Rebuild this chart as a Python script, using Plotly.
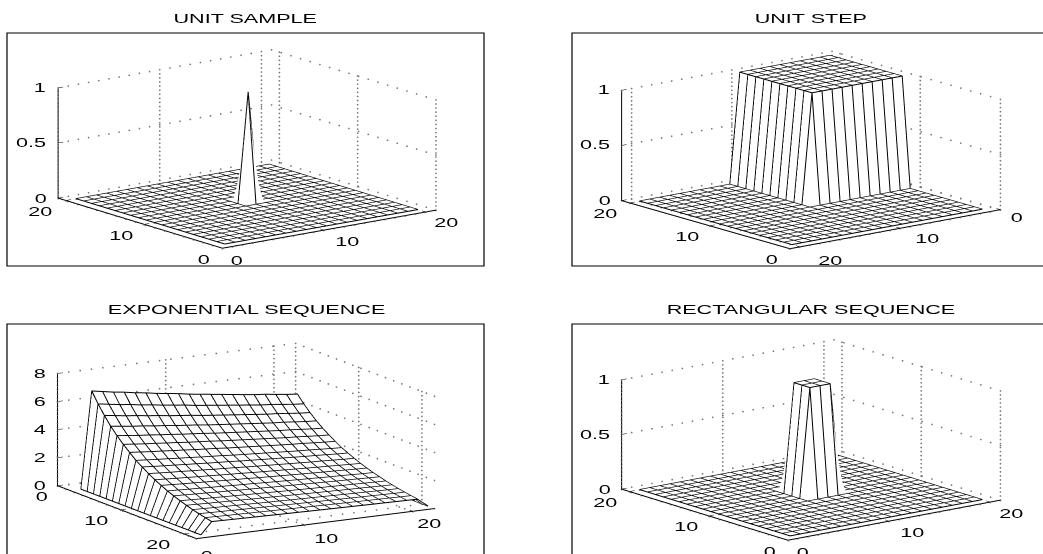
import math
import numpy as np
import plotly.graph_objects as go

W, H = 1043, 554
TITLES = ["UNIT SAMPLE", "UNIT STEP", "EXPONENTIAL SEQUENCE", "RECTANGULAR SEQUENCE"]

# mesh nodes
NODES = list(range(1, 21))
SAMPLE_PROFILE = [0]*10 + [1] + [0]*9
STEP_PROFILE = [0]*10 + [1]*10
RECT_PROFILE = [0]*9 + [1, 1, 1] + [0]*8
EXP_X = list(range(1, 23))
EXP_Y = list(range(1, 21))
# read along the surface (drawn position along the depth axis, front to back)
EXP_Y_PROFILE = [0.85, 0.95, 1.06, 1.18, 1.32, 1.47, 1.65, 1.83, 2.05, 2.28,
                 2.55, 2.85, 3.15, 3.55, 3.95, 4.4, 4.9, 5.5, 6.15, 6.9]
EXP_X_PROFILE = [0, 1, .98, .96, .945, .925, .91, .89, .875, .86, .84, .825,
                 .81, .795, .78, .765, .75, .74, .725, .71, .70, 0]

ZOOM_DIST = 2.0
DOM_H = 220
WIRE_LIFT = 0.012
Z_PAD = 0.03

# per panel: ranges, view vectors in px, domain centre
PANELS = [
    dict(lim=21, zmax=1, zt=[0, .5, 1], zl=["0", "0.5", "1"], X=(213, 38), Y=(164, 50), Z=110, c=(246.5, 149),
         xt=[(0, "0", 15, -12), (10, "10", 23, -11), (20, "20", 21, -11)],
         yt=[(0, "0", -18, -11), (10, "10", -23, -11), (20, "20", -25, -11)],
         zs=[-17, -27, -18], xg=[0, 10, 20], yg=[0, 10, 20]),
    dict(lim=21, zmax=1, zt=[0, .5, 1], zl=["0", "0.5", "1"], X=(210, 39), Y=(168, 48), Z=110, c=(811, 149.5),
         xt=[(21, "0", 16, -8), (11, "10", 27, -11), (1, "20", 30, -14)],
         yt=[(0, "0", -18, -11), (10, "10", -23, -11), (20, "20", -25, -11)],
         zs=[-17, -27, -18], xg=[1, 11, 21], yg=[0, 10, 20]),
    dict(lim=22, zmax=8, zt=[0, 2, 4, 6, 8], zl=["0", "2", "4", "6", "8"], X=(237.6, 30), Y=(138.6, 52.8), Z=112, c=(246, 441),
         xt=[(0, "0", 10, -17), (10, "10", 21, -14), (20, "20", 16, -12)],
         yt=[(22, "0", -16, -11), (12, "10", -25, -11), (2, "20", -26, -11)],
         zs=[-18, -18, -18, -18, -18], xg=[0, 10, 20], yg=[22, 12, 2]),
    dict(lim=21, zmax=1, zt=[0, .5, 1], zl=["0", "0.5", "1"], X=(212, 40), Y=(166, 51), Z=109, c=(811, 440),
         xt=[(0, "0", 15, -12), (10, "10", 23, -11), (20, "20", 21, -11)],
         yt=[(0, "0", -18, -11), (10, "10", -23, -11), (20, "20", -25, -11)],
         zs=[-17, -27, -18], xg=[0, 10, 20], yg=[0, 10, 20]),
]

SURF = [
    (NODES, NODES, np.outer(SAMPLE_PROFILE, SAMPLE_PROFILE)),
    (NODES, NODES, np.outer(STEP_PROFILE, STEP_PROFILE)),
    (EXP_X, EXP_Y, np.outer(EXP_Y_PROFILE, EXP_X_PROFILE)),
    (NODES, NODES, np.outer(RECT_PROFILE, RECT_PROFILE)),
]

FONT = dict(family="Liberation Sans", size=13, color="black")
fig = go.Figure()
layout_scenes = {}


def line3d(scene, xs, ys, zs, width=1):
    fig.add_trace(go.Scatter3d(x=xs, y=ys, z=zs, mode="lines", scene=scene, showlegend=False,
                               hoverinfo="skip", line=dict(color="black", width=width)))


for i, p in enumerate(PANELS):
    scene = "scene" if i == 0 else f"scene{i+1}"
    xs, ys, zz = SURF[i]
    L, zm = p["lim"], p["zmax"]
    # view from projected axis vectors
    ax, ay = p["X"]
    bx, by = p["Y"]
    S = math.sqrt((ay / ax) * (by / bx))
    tt = math.atan2(ay / ax, S)
    e = math.asin(S)
    A, B, C = ax / math.cos(tt), bx / math.sin(tt), p["Z"] / math.cos(e)
    K = 270 / 2.46
    unit = (-math.sin(tt) * math.cos(e), -math.cos(tt) * math.cos(e), S)
    eye = dict(x=unit[0] * ZOOM_DIST, y=unit[1] * ZOOM_DIST, z=unit[2] * ZOOM_DIST)

    fig.add_trace(go.Surface(x=xs, y=ys, z=zz.tolist(), scene=scene, showscale=False, hoverinfo="skip",
                             colorscale=[[0, "white"], [1, "white"]], cmin=0, cmax=1,
                             surfacecolor=np.zeros_like(zz).tolist(),
                             lighting=dict(ambient=1, diffuse=0, specular=0, roughness=1, fresnel=0),
                             contours=dict(x=dict(show=False, highlight=False), y=dict(show=False, highlight=False),
                                           z=dict(show=False, highlight=False))))
    # wire lines from the same grid, nudged toward the eye so they sit on the surface
    dx = WIRE_LIFT * unit[0] / (A / K) * L / 2
    dy = WIRE_LIFT * unit[1] / (B / K) * L / 2
    dz = WIRE_LIFT * unit[2] / (C / K) * zm / 2
    wx, wy, wz = [], [], []
    for r, yv in enumerate(ys):
        wx += [v + dx for v in xs] + [None]
        wy += [yv + dy] * len(xs) + [None]
        wz += [float(v) + dz for v in zz[r]] + [None]
    for c, xv in enumerate(xs):
        wx += [xv + dx] * len(ys) + [None]
        wy += [v + dy for v in ys] + [None]
        wz += [float(v) + dz for v in zz[:, c]] + [None]
    fig.add_trace(go.Scatter3d(x=wx, y=wy, z=wz, mode="lines", scene=scene, showlegend=False, hoverinfo="skip",
                               connectgaps=False, line=dict(color="black", width=2)))
    f = -0.004 * zm
    # dotted walls and floor, drawn as spaced points
    segs = []
    for z in p["zt"]:
        segs.append(((0, L, z), (L, L, z), 21))
        segs.append(((L, L, z), (L, 0, z), 17))
    for g in p["xg"]:
        segs.append(((g, L, 0), (g, L, zm), 27))
        segs.append(((g, 0, f), (g, L, f), 17))
    for g in p["yg"]:
        segs.append(((L, g, 0), (L, g, zm), 27))
        segs.append(((0, g, f), (L, g, f), 21))
    pts = np.concatenate([np.linspace(a, b, n + 1) for a, b, n in segs])
    fig.add_trace(go.Scatter3d(x=pts[:, 0], y=pts[:, 1], z=pts[:, 2], mode="markers", scene=scene, showlegend=False,
                               hoverinfo="skip", marker=dict(color="#777777", size=1, line=dict(width=0))))
    # axes
    line3d(scene, [0, 0], [L, L], [0, zm], width=2)
    line3d(scene, [0, 0], [0, L], [0, 0], width=2)
    line3d(scene, [0, L], [0, 0], [0, 0], width=2)
    # tick marks
    for z in p["zt"]:
        line3d(scene, [0, 0.5], [L, L], [z, z])
    for t in p["xt"]:
        line3d(scene, [t[0], t[0]], [0, 0.5], [0, 0])
    for t in p["yt"]:
        line3d(scene, [0, 0.5], [t[0], t[0]], [0, 0])
    ann = []
    for t in p["xt"]:
        ann.append(dict(x=t[0], y=0, z=0, text=t[1], xshift=t[2], yshift=t[3], showarrow=False, font=FONT))
    for t in p["yt"]:
        ann.append(dict(x=0, y=t[0], z=0, text=t[1], xshift=t[2], yshift=t[3], showarrow=False, font=FONT))
    for z, lab, sh in zip(p["zt"], p["zl"], p["zs"]):
        ann.append(dict(x=0, y=L, z=z, text=lab, xshift=sh, yshift=0, showarrow=False, font=FONT))
    cx, cy = p["c"]
    dom = dict(x=[(cx - 225) / W, min(1, (cx + 225) / W)], y=[1 - (cy + DOM_H / 2) / H, 1 - (cy - DOM_H / 2) / H])
    ax_off = dict(visible=False, showspikes=False)
    layout_scenes[scene] = dict(
        domain=dom, aspectmode="manual", aspectratio=dict(x=A / K, y=B / K, z=C / K * (1 + 2 * Z_PAD)),
        camera=dict(projection=dict(type="orthographic"), eye=eye, up=dict(x=0, y=0, z=1), center=dict(x=0, y=0, z=0)),
        xaxis=dict(range=[0, L], **ax_off), yaxis=dict(range=[0, L], **ax_off),
        zaxis=dict(range=[-Z_PAD * zm, zm * (1 + Z_PAD)], **ax_off),
        annotations=ann, bgcolor="rgba(0,0,0,0)")

FRAMES = [(7, 33, 484, 266), (572, 33, 1060, 266), (7, 324, 484, 570), (572, 324, 1060, 570)]
shapes = [dict(type="rect", xref="paper", yref="paper", x0=a / W, x1=c / W, y0=1 - b / H, y1=1 - d / H,
               line=dict(color="black", width=1.2)) for a, b, c, d in FRAMES]
TITLE_POS = [(245, 18), (811, 18), (246, 309), (811, 309)]
titles = [dict(x=x / W, y=1 - y / H, xref="paper", yref="paper", text=t, showarrow=False, font=FONT,
               xanchor="center", yanchor="middle") for t, (x, y) in zip(TITLES, TITLE_POS)]

fig.update_layout(width=W, height=H, margin=dict(l=0, r=0, t=0, b=0), paper_bgcolor="white",
                  showlegend=False, shapes=shapes, annotations=titles, **layout_scenes)

POST = """
document.body.style.margin='0';document.body.style.overflow='hidden';
function stretch(){document.querySelectorAll('text.annotation-text, .annotation text').forEach(function(t){
 if(!t.hasAttribute('textLength')){var w=t.getComputedTextLength();
  if(w>0){t.setAttribute('textLength',w*1.66);t.setAttribute('lengthAdjust','spacingAndGlyphs');}}});}
new MutationObserver(stretch).observe(document.body,{childList:true,subtree:true});
stretch();setInterval(stretch,50);
"""
fig.write_html("out.html", config=dict(displayModeBar=False), post_script=POST)
